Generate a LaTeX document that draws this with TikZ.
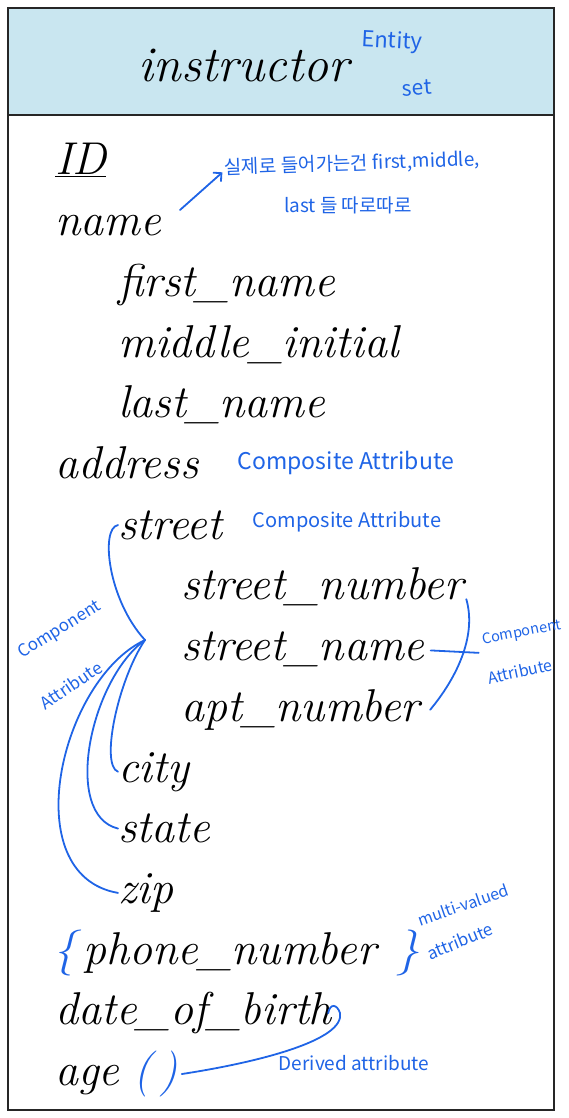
\documentclass[tikz,border=0pt]{standalone}
\usepackage{fontspec}
\newfontfamily\handfont{Noto Sans CJK KR}
\usepackage{tikz}
\usetikzlibrary{arrows.meta,positioning,calc}
\definecolor{headFill}{HTML}{C9E6F0}
\definecolor{penBlue}{HTML}{1F64E6}
\tikzset{
  attr/.style={anchor=base west, inner sep=0pt, font=\fontsize{46}{48}\selectfont\itshape},
  inkmark/.style={attr, text=penBlue},
  note/.style={font=\handfont\fontsize{17}{21}\selectfont, text=penBlue,
    inner sep=0pt, align=center},
  pen/.style={draw=penBlue, line width=1.8pt, line cap=round}
}
\begin{document}
\begin{tikzpicture}[x=1pt,y=-1pt]
  \useasboundingbox (0,0) rectangle (568,1118);

  % entity box
  \draw[fill=headFill, draw=black!85, line width=1.8pt] (8,8) rectangle (554,115);
  \draw[draw=black!85, line width=1.8pt] (8,115) rectangle (554,1110);
  \node[anchor=base, inner sep=0pt, font=\fontsize{50}{52}\selectfont\itshape] (title) at (244,82) {instructor};

  % attributes, one per row
  \foreach \nm/\txt/\lv/\i in {id/{\underline{ID}}/0/0, name/name/0/1,
      first/first\_name/1/2, middle/middle\_initial/1/3, last/last\_name/1/4,
      address/address/0/5, street/street/1/6, snum/street\_number/2/7,
      sname/street\_name/2/8, apt/apt\_number/2/9, city/city/1/10,
      state/state/1/11, zip/zip/1/12, dob/date\_of\_birth/0/14, age/age/0/15}
    \node[attr] (\nm) at ({55+63*\lv},{175+60.7*\i}) {\txt};
  \node[attr] (phone) at (83,{175+60.7*13}) {phone\_number};

  % hand-written marks
  \node[inkmark] (lbrace) at (53,{175+60.7*13}) {\{};
  \node[inkmark] (rbrace) at (396,{175+60.7*13}) {\}};
  \node[inkmark] (lpar) at (133,{175+60.7*15}) {(};
  \node[inkmark] (rpar) at (159,{175+60.7*15}) {)};

  % notes
  \node[note, font=\handfont\fontsize{22}{24}\selectfont, rotate=-3] (entity) at (392,42) {Entity};
  \node[note, font=\handfont\fontsize{21}{24}\selectfont, rotate=4] (set) at (417,88) {set};
  \node[note, font=\handfont\fontsize{19}{22}\selectfont, rotate=2] (kor1) at (352,164) {실제로 들어가는건 first,middle,};
  \node[note, font=\handfont\fontsize{19}{22}\selectfont] (kor2) at (348,205) {last 들 따로따로};
  \node[note, font=\handfont\fontsize{23}{26}\selectfont] (comp1) at (346,463) {Composite Attribute};
  \node[note, font=\handfont\fontsize{20}{24}\selectfont] (comp2) at (347,522) {Composite Attribute};
  \node[note, font=\handfont\fontsize{17}{20}\selectfont, rotate=32] (partL1) at (60,630) {Component};
  \node[note, font=\handfont\fontsize{17}{20}\selectfont, rotate=34] (partL2) at (71,685) {Attribute};
  \node[note, font=\handfont\fontsize{14.5}{18}\selectfont, rotate=11] (partR1) at (522,633) {Component};
  \node[note, font=\handfont\fontsize{16}{20}\selectfont, rotate=12] (partR2) at (520,671) {Attribute};
  \node[note, font=\handfont\fontsize{16}{20}\selectfont, rotate=19] (multi1) at (463,905) {multi-valued};
  \node[note, font=\handfont\fontsize{17}{20}\selectfont, rotate=22] (multi2) at (460,941) {attribute};
  \node[note, font=\handfont\fontsize{19}{22}\selectfont] (derived) at (354,1063) {Derived attribute};

  % arrows and brackets
  \draw[pen, -{Straight Barb[length=6pt]}] (180,210) -- ([shift={(-2,-6)}]kor1.south west);
  \coordinate (fan) at (145,640);
  \draw[pen] (street.west) .. controls (100,528) and (108,600) .. (fan);
  \draw[pen] (fan) .. controls (118,680) and (100,765) .. (city.west);
  \draw[pen] (fan) .. controls (90,680) and (62,815) .. (state.west);
  \draw[pen] (fan) .. controls (60,680) and (15,875) .. (zip.west);
  \draw[pen] ($(snum.east)+(3,12)$) .. controls ($(snum.east)+(14,50)$)
    and ($(apt.east)+(35,-30)$) .. ($(apt.east)+(10,0)$);
  \draw[pen] ([xshift=6pt,yshift=-1pt]sname.east) -- ([xshift=-5pt,yshift=-5pt]partR1.south west);
  \draw[pen] ([xshift=4pt]rpar.east) .. controls (260,1062) and (345,1040) .. (340,1013)
    .. controls (337,1004) and (330,1003) .. ([xshift=-4pt]dob.east);
\end{tikzpicture}
\end{document}
